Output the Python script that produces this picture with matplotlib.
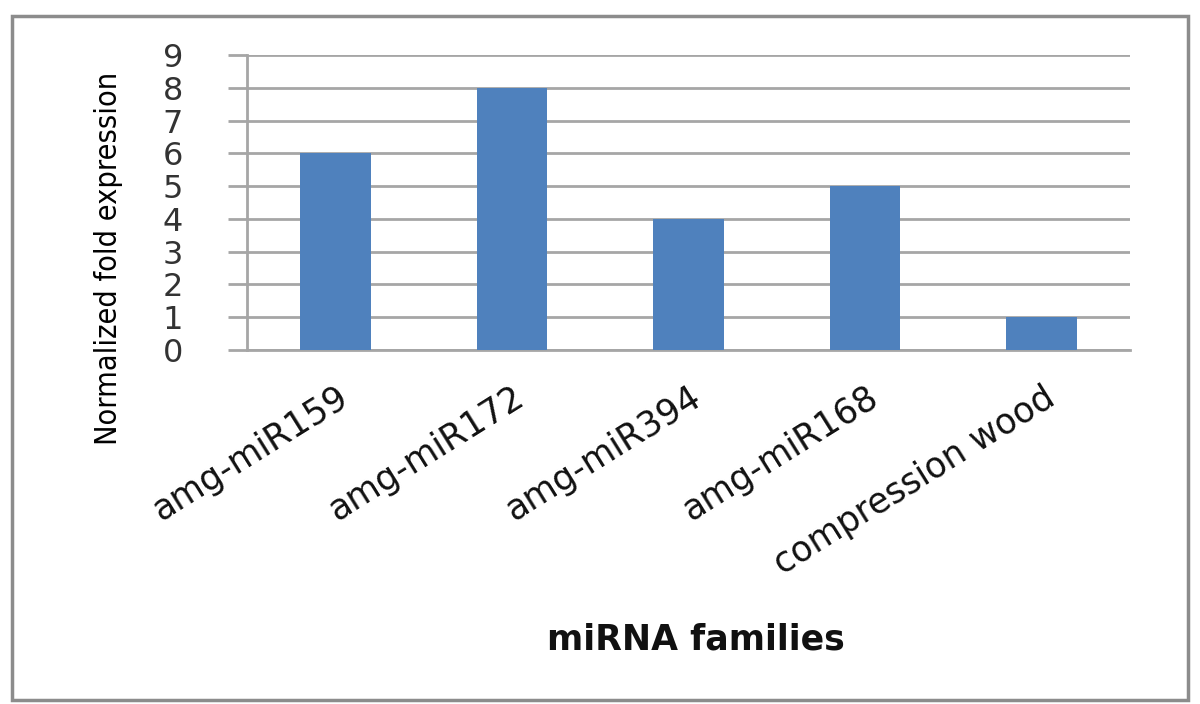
import matplotlib
matplotlib.use("Agg")
import matplotlib.pyplot as plt
from matplotlib import font_manager
from matplotlib.patches import Rectangle
from matplotlib.transforms import ScaledTranslation

categories = ["amg-miR159", "amg-miR172", "amg-miR394", "amg-miR168", "compression wood"]
values = [6, 8, 4, 5, 1]
yticks = list(range(0, 10))

BAR_COLOR = "#4F81BD"
GRID_COLOR = "#A6A6A6"


def have_font(name):
    try:
        font_manager.findfont(font_manager.FontProperties(family=name),
                              fallback_to_default=False)
        return True
    except ValueError:
        return False


# narrow font for the y label, if one is around
if have_font("Liberation Sans Narrow"):
    ylab_kw = dict(family="Liberation Sans Narrow", fontsize=28)
else:
    ylab_kw = dict(family="DejaVu Sans", fontstretch="condensed", fontsize=22)

fig = plt.figure(figsize=(12, 7.04), dpi=100)
ax = fig.add_axes([247 / 1200, 1 - 350 / 704, (1130 - 247) / 1200, (350 - 55) / 704])

x = list(range(len(categories)))
ax.bar(x, values, width=0.4, color=BAR_COLOR, zorder=3)
ax.set_xlim(-0.5, len(categories) - 0.5)
ax.set_ylim(0, 9)
ax.set_yticks(yticks)
ax.yaxis.grid(True, color=GRID_COLOR, linewidth=2, zorder=0)

for side in ("top", "right"):
    ax.spines[side].set_visible(False)
for side in ("left", "bottom"):
    ax.spines[side].set_color(GRID_COLOR)
    ax.spines[side].set_linewidth(2)

ax.tick_params(axis="y", length=14, width=2, color=GRID_COLOR, pad=32,
               labelsize=23, labelcolor="#333333")
ax.tick_params(axis="x", length=0, pad=32)
for lab in ax.get_yticklabels():
    lab.set_family("DejaVu Sans")

ax.set_xticks(x)
ax.set_xticklabels(categories, rotation=32, ha="right", va="center",
                   rotation_mode="anchor", fontsize=25, family="DejaVu Sans",
                   color="#111111")
shift = ScaledTranslation(10 / 100, 0, fig.dpi_scale_trans)
for lab in ax.get_xticklabels():
    lab.set_transform(lab.get_transform() + shift)

ax.set_ylabel("Normalized fold expression", color="#000000", **ylab_kw)
ax.yaxis.set_label_coords(-0.14, 0.31)

fig.text(696 / 1200, 1 - 640 / 704, "miRNA families", ha="center", va="center",
         fontsize=25, fontweight="bold", family="DejaVu Sans", color="#111111")

fig.patches.append(Rectangle((12 / 1200, 4 / 704), 1176 / 1200, 684 / 704,
                             transform=fig.transFigure, fill=False,
                             edgecolor="#8C8C8C", linewidth=2.5))

fig.savefig("out.png", dpi=100)
